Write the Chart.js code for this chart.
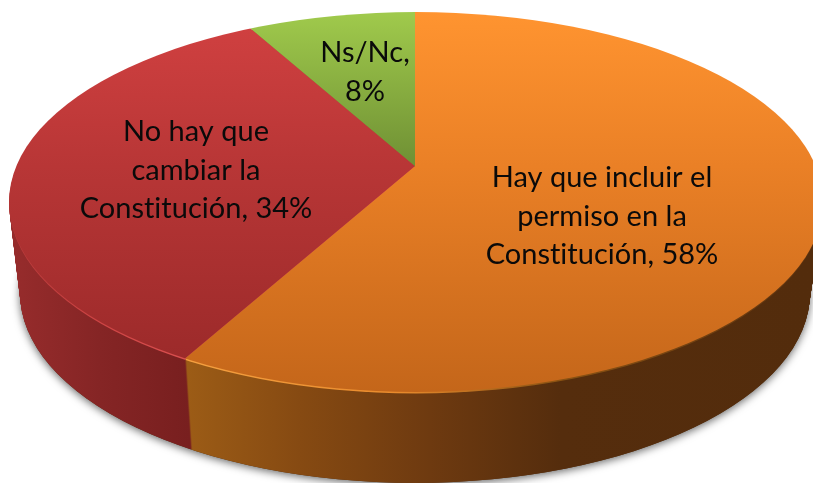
<!DOCTYPE html>
<html>
<head>
<meta charset="utf-8">
<style>html,body{margin:0;padding:0;background:#fff;overflow:hidden}canvas{display:block}</style>
<script src="https://cdn.jsdelivr.net/npm/chart.js@4"></script>
</head>
<body>
<div style="width:813px;height:483px"><canvas id="c" width="813" height="483"></canvas></div>
<script>
const categories = ["Hay que incluir el permiso en la Constitución", "No hay que cambiar la Constitución", "Ns/Nc"];
const shares = [58, 34, 8];
const labelLines = [
  ["Hay que incluir el", "permiso en la", "Constitución, 58%"],
  ["No hay que", "cambiar la", "Constitución, 34%"],
  ["Ns/Nc,", "8%"]
];
const labelCentres = [[602, 178], [196, 132], [365, 53]];
const baseColours = ["#E8801F", "#B53434", "#8CB040"];
const faceStops = [
  [[12, "#FF9430"], [166, "#EA8026"], [392, "#C4661A"]],
  [[12, "#D24141"], [166, "#B83636"], [360, "#9C2A2A"]],
  [[12, "#A0CA4C"], [166, "#6F9034"]]
];
const sideStops = [
  [[187, "#9C5C16"], [300, "#864A12"], [430, "#6E3A10"], [560, "#552D0D"], [813, "#532C0C"]],
  [[10, "#972C2C"], [100, "#852525"], [190, "#781F1F"]],
  [[250, "#5A7A28"], [415, "#5A7A28"]]
];
const bevelStops = [
  [[187, "#F5A040"], [400, "#E88A2C"], [560, "#8A5212"], [813, "#603410"]],
  [[10, "#B83A3A"], [100, "#CE4444"], [190, "#DA5050"]],
  [[250, "#6F9034"], [415, "#6F9034"]]
];

const apex = {x: 415, y: 166};
const topRim = {x: 416, y: 202, rx: 407, ry: 190};
const depth = 91, taper = 0.97, baseRx = 395, aspect = 0.46, zoom = 2.5, apexDrift = 6;

function layerGeom(t) {
  const s = 1 + (taper - 1) * t;
  return {
    ax: apex.x + apexDrift * t, ay: apex.y + depth * t,
    kx: zoom * s, ky: zoom * aspect * s,
    ex: topRim.x + (415 - topRim.x) * t, ey: topRim.y + depth * t,
    erx: topRim.rx + (baseRx - topRim.rx) * t, ery: topRim.ry
  };
}
function gradient(ctx, stops, g, cx, cy, horizontal) {
  const a = stops[0][0], b = stops[stops.length - 1][0];
  const gr = horizontal
    ? ctx.createLinearGradient(cx + (a - g.ax) / g.kx, 0, cx + (b - g.ax) / g.kx, 0)
    : ctx.createLinearGradient(0, cy + (a - g.ay) / g.ky, 0, cy + (b - g.ay) / g.ky);
  stops.forEach(s => gr.addColorStop((s[0] - a) / (b - a), s[1]));
  return gr;
}
function drawLayer(chart, t, stopsSet, horizontal) {
  const ctx = chart.ctx, arcs = chart.getDatasetMeta(0).data, g = layerGeom(t);
  const cx = arcs[0].x, cy = arcs[0].y;
  ctx.save();
  ctx.beginPath();
  ctx.ellipse(g.ex, g.ey, g.erx, g.ery, 0, 0, Math.PI * 2);
  ctx.clip();
  ctx.translate(g.ax, g.ay);
  ctx.scale(g.kx, g.ky);
  ctx.translate(-cx, -cy);
  arcs.forEach((arc, i) => {
    const shim = Object.create(arc);
    const opts = Object.create(arc.options, {
      backgroundColor: {value: gradient(ctx, stopsSet[i], g, cx, cy, horizontal)},
      borderWidth: {value: 0}
    });
    Object.defineProperty(shim, "options", {value: opts});
    arc.draw.call(shim, ctx);
  });
  ctx.restore();
}
const pie3d = {
  id: "pie3d",
  beforeDatasetsDraw(chart) {
    const ctx = chart.ctx, b = layerGeom(1);
    ctx.save();
    ctx.shadowColor = "rgba(0,0,0,0.6)";
    ctx.shadowBlur = 8;
    ctx.shadowOffsetY = 2;
    ctx.fillStyle = "#532C0C";
    ctx.beginPath();
    ctx.ellipse(b.ex, b.ey, b.erx, b.ery, 0, 0, Math.PI * 2);
    ctx.fill();
    ctx.restore();
    for (let d = depth; d >= 2; d--) drawLayer(chart, d / depth, sideStops, true);
    drawLayer(chart, 1.5 / depth, bevelStops, true);
    drawLayer(chart, 0, faceStops, false);
    return false;
  },
  afterDraw(chart) {
    const ctx = chart.ctx;
    ctx.save();
    ctx.font = "29px Lato, Carlito, sans-serif";
    ctx.letterSpacing = "0.01px";
    ctx.fillStyle = "#0a0a0a";
    ctx.textAlign = "center";
    ctx.textBaseline = "middle";
    labelLines.forEach((lines, i) => lines.forEach((line, j) => {
      ctx.fillText(line, labelCentres[i][0], labelCentres[i][1] + j * 38.5);
    }));
    ctx.restore();
  }
};
new Chart(document.getElementById("c"), {
  type: "pie",
  data: {labels: categories, datasets: [{data: shares, backgroundColor: baseColours, borderWidth: 0}]},
  options: {
    responsive: false, animation: false,
    layout: {padding: 0},
    plugins: {legend: {display: false}, tooltip: {enabled: false}, title: {display: false}}
  },
  plugins: [pie3d]
});
</script>
</body>
</html>
